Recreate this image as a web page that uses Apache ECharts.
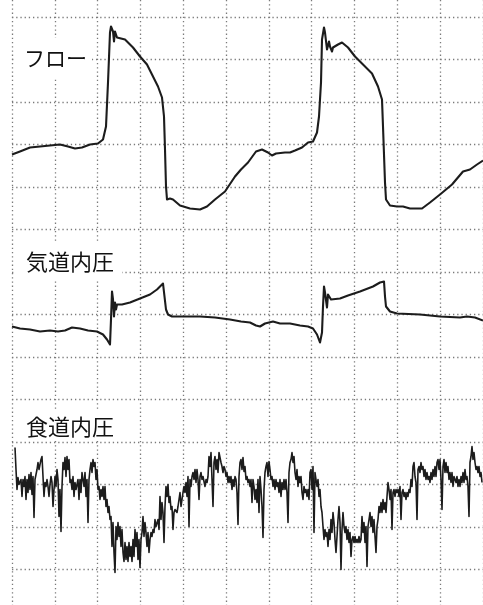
<!DOCTYPE html>
<html><head><meta charset="utf-8">
<script src="https://cdn.jsdelivr.net/npm/echarts@6/dist/echarts.min.js"></script>
<style>html,body{margin:0;padding:0;background:#fff}#c{width:483px;height:605px}</style>
</head><body><div id="c"></div>
<script>
const channelLabels = ['フロー', '気道内圧', '食道内圧'];

// Flow trace: sample time and value
const flowT = [0,8,18,28,38,48,56,63,70,78,86,91,94,96,98,99,101,102,103,105,107,113,121,128,135,141,146,150,152,153,154,155,158,161,168,178,188,195,203,213,223,229,236,244,250,256,260,264,273,278,283,290,296,301,305,307,309,310,312,313,315,317,318,320,321,326,330,336,343,351,360,366,370,371,373,374,378,385,391,398,410,418,428,440,451,458,465,471];
const flowV = [415,418,422,423,424,425,423,421,422,425,426,430,443,487,537,543,538,528,538,532,533,530,522,513,505,493,483,472,453,420,383,370,371,370,364,361,360,363,370,378,393,400,407,418,420,417,414,416,417,417,419,422,427,428,437,453,487,530,542,537,520,528,523,518,522,525,527,522,513,505,496,483,470,443,387,370,364,363,363,361,361,367,375,385,398,400,405,409];

// Airway pressure trace
const pawT = [0,8,18,28,38,46,53,60,68,76,85,91,95,98,99,100,101,102,103,104,105,107,110,118,128,138,145,151,153,154,156,160,168,188,203,218,229,238,244,248,253,261,268,278,288,296,301,305,308,310,311,312,313,315,316,317,319,321,328,336,348,361,368,372,373,374,378,385,408,428,448,455,463,471];
const pawV = [243,241,240,238,239,238,239,242,241,239,238,235,230,225,250,278,270,253,267,260,265,263,265,267,271,275,280,286,285,260,255,253,253,253,252,250,248,247,244,243,246,248,246,246,244,243,241,235,227,237,263,283,277,262,275,277,270,272,271,274,278,283,287,288,273,263,258,256,255,253,252,253,252,249];

// Esophageal pressure trace: one value per sample, starting at sample esoStart
const esoStart = 3;
const esoV = [
122,100,80,92,85,87,90,73,90,83,
93,70,90,77,95,80,97,75,93,52,
90,95,100,107,100,105,110,113,93,73,
87,83,90,83,73,85,93,87,63,80,
93,83,100,90,53,80,38,83,107,100,
112,93,113,100,110,87,90,80,93,73,
87,80,85,90,70,90,77,97,90,83,
97,73,90,47,90,100,107,97,110,103,
107,90,100,80,83,70,80,73,83,70,
83,63,70,57,63,50,53,23,47,17,
-3,43,30,47,33,43,23,40,17,8,
27,10,23,8,27,13,23,8,30,13,
40,23,37,10,30,2,30,37,53,33,
47,37,23,37,17,30,37,33,40,37,
50,43,43,50,40,73,50,67,57,27,
63,83,73,85,67,73,60,63,40,57,
60,58,57,63,70,77,63,70,77,83,
77,87,73,93,43,90,83,93,97,90,
100,87,100,90,70,93,97,90,93,88,
83,90,87,93,113,103,117,90,63,107,
113,100,110,97,117,118,107,103,97,103,
100,93,97,87,93,87,93,80,90,83,
93,90,77,45,93,107,110,100,112,98,
103,90,93,87,90,83,90,67,90,83,
70,80,67,90,57,93,80,63,32,80,
97,103,107,93,108,100,90,93,83,90,
80,90,83,87,77,90,73,87,80,90,
80,90,77,47,97,107,110,117,107,113,
97,90,100,83,93,87,93,77,70,83,
77,80,73,80,70,97,100,80,103,37,
97,90,83,90,73,80,63,57,43,30,
40,33,37,23,40,30,50,37,57,47,
30,17,33,50,63,47,0,40,57,43,
37,43,30,40,27,37,13,30,33,27,
33,27,30,27,33,27,30,53,37,47,
27,43,3,43,50,57,43,53,37,50,
33,17,43,50,63,57,67,57,70,60,
67,57,73,87,80,70,80,40,77,80,
73,80,77,80,73,83,50,77,80,73,
77,70,77,73,80,77,90,83,103,107,
93,87,50,100,103,97,107,100,103,93,
100,90,97,90,93,87,97,90,100,93,
103,93,107,110,100,110,90,60,103,110,
97,107,97,103,90,97,87,97,83,93,
90,87,93,83,90,83,93,87,97,87,
100,90,93,83,53,107,113,123,110,117,
107,100,103,97,103,93,97,87
];

const X_MAX = 470.8, X_INT = 42.8;
const Y_MAX = 552.5, Y_INT = 42.5;
const dot = { type: [1.3, 2.9], width: 1.3, color: '#7a7a7a' };

const chart = echarts.init(document.getElementById('c'), null, { renderer: 'canvas' });
const lineSeries = (data, w) => ({
  type: 'line', xAxisIndex: 1, yAxisIndex: 1, data, showSymbol: false, symbol: 'none',
  clip: false, animation: false, silent: true,
  lineStyle: { color: '#1c1c1c', width: w, join: 'round' }, z: 5
});

const labelBoxes = [
  { x: 14, y: 38, w: 78, h: 40, tx: 24, ty: 58, fs: 21 },
  { x: 14, y: 243, w: 108, h: 37, tx: 26, ty: 262, fs: 22 },
  { x: 14, y: 410, w: 104, h: 31, tx: 26, ty: 427, fs: 22 }
];
const graphics = [];
labelBoxes.forEach((b, i) => {
  graphics.push({ type: 'rect', z: 50, shape: { x: b.x, y: b.y, width: b.w, height: b.h }, style: { fill: '#fff' } });
  graphics.push({ type: 'text', z: 51, x: b.tx, y: b.ty, style: {
    text: channelLabels[i], fill: '#111', fontSize: b.fs,
    fontFamily: '"Noto Sans CJK JP", sans-serif', verticalAlign: 'middle', align: 'left' } });
});

chart.setOption({
  backgroundColor: '#fff',
  animation: false,
  grid: [
    { left: 12, top: 0, width: X_MAX, bottom: 0 },
    { left: 12, top: 17, width: X_MAX, height: Y_MAX }
  ],
  xAxis: [
    { type: 'value', gridIndex: 0, min: 0, max: X_MAX, interval: X_INT,
      axisLine: { show: false }, axisTick: { show: false }, axisLabel: { show: false },
      splitLine: { show: true, lineStyle: dot } },
    { type: 'value', gridIndex: 1, min: 0, max: X_MAX, interval: X_INT, show: false }
  ],
  yAxis: [
    { type: 'value', gridIndex: 0, min: 0, max: 1, show: false },
    { type: 'value', gridIndex: 1, min: 0, max: Y_MAX, interval: Y_INT,
      axisLine: { show: false }, axisTick: { show: false }, axisLabel: { show: false },
      splitLine: { show: true, lineStyle: dot } }
  ],
  series: [
    lineSeries(flowT.map((t, i) => [t, flowV[i]]), 2.1),
    lineSeries(pawT.map((t, i) => [t, pawV[i]]), 2.1),
    lineSeries(esoV.map((v, i) => [esoStart + i, v]), 1.6)
  ],
  graphic: graphics
});
</script>
</body></html>
